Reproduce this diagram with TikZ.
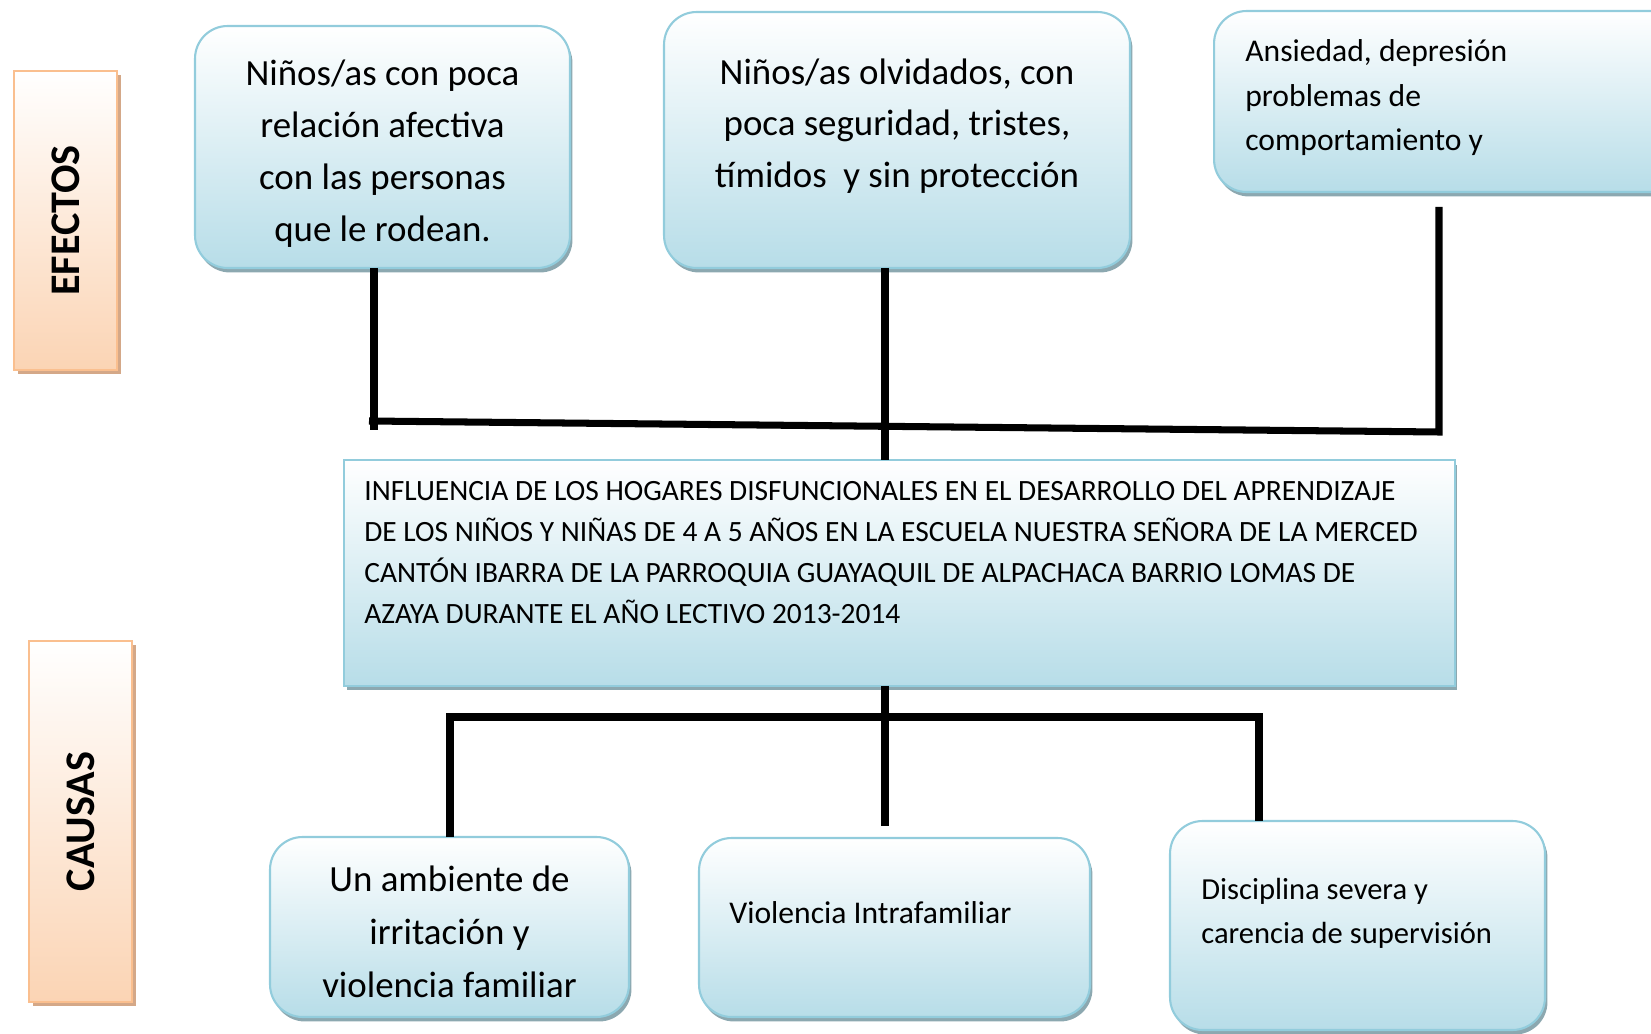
\documentclass[tikz,border=0pt]{standalone}
\usepackage{fontspec}
\setmainfont{Carlito}
\usepackage{tikz}
\usetikzlibrary{positioning}
\usetikzlibrary{shadows}

\definecolor{boxblue}{RGB}{183,221,232}
\definecolor{edgeblue}{RGB}{146,204,220}
\definecolor{shadeblue}{RGB}{140,168,176}
\definecolor{boxpeach}{RGB}{251,212,180}
\definecolor{edgepeach}{RGB}{250,191,143}
\definecolor{shadepeach}{RGB}{212,168,136}

\tikzset{%
  effect/.style   = {draw=edgeblue, line width=1.2pt, rounded corners=0.65cm,
    top color=white, bottom color=boxblue, inner sep=0pt, outer sep=0pt,
    general shadow={fill=shadeblue, shadow xshift=0.05cm, shadow yshift=-0.09cm}},
  problem/.style  = {effect, rounded corners=0pt},
  side/.style     = {draw=edgepeach, line width=1.2pt, top color=white,
    bottom color=boxpeach, inner sep=0pt, outer sep=0pt,
    font=\fontsize{24}{27}\selectfont\bfseries,
    general shadow={fill=shadepeach, shadow xshift=0.08cm, shadow yshift=-0.08cm}}, % titles
  bigtext/.style  = {font=\fontsize{21}{29.5}\selectfont, align=center, inner sep=0pt},
  smalltext/.style= {font=\fontsize{18}{25.5}\selectfont, align=left, inner sep=0pt, anchor=north west},
  link/.style     = {line width=4pt, black}
}

\begin{document}
\begin{tikzpicture}[x=0.02cm, y=-0.02cm]
  \useasboundingbox (0,0) rectangle (1651,1034);
  \clip (0,0) rectangle (1651,1034);

  % side titles
  \draw node at (65.5,220.5) [side, minimum width=2.06cm, minimum height=5.98cm] (efectos) {\rotatebox{90}{EFECTOS}};
  \draw node at (80.5,821.5) [side, minimum width=2.06cm, minimum height=7.22cm] (causas) {\rotatebox{90}{CAUSAS}};

  % efectos
  \draw node at (382.5,147) [effect, minimum width=7.5cm, minimum height=4.84cm] (e1) {};
  \draw node at (382.5,153.5) [bigtext] (e1txt)
    {Niños/as con poca\\relación afectiva\\con las personas\\que le rodean.};
  \draw node at (897,140) [effect, minimum width=9.32cm, minimum height=5.12cm] (e2) {};
  \draw node at (897,126) [bigtext] (e2txt)
    {Niños/as olvidados, con\\poca seguridad, tristes,\\tímidos \ y sin protección};
  \draw node at (1449,101.5) [effect, minimum width=9.4cm, minimum height=3.62cm] (e3) {};
  \draw node at (1245,39) [smalltext] (e3txt)
    {Ansiedad, depresión\\problemas de\\comportamiento y};

  % problema central
  \draw node at (899.5,573) [problem, minimum width=22.22cm, minimum height=4.52cm] (prob) {};
  \draw node at (364,481) [smalltext, font=\fontsize{16.75}{23.3}\selectfont] (probtxt)
    {INFLUENCIA DE LOS HOGARES DISFUNCIONALES EN EL DESARROLLO DEL APRENDIZAJE\\
     DE LOS NIÑOS Y NIÑAS DE 4 A 5 AÑOS EN LA ESCUELA NUESTRA SEÑORA DE LA MERCED\\
     CANTÓN IBARRA DE LA PARROQUIA GUAYAQUIL DE ALPACHACA BARRIO LOMAS DE\\
     AZAYA DURANTE EL AÑO LECTIVO 2013-2014};

  % causas
  \draw node at (449.5,927) [effect, minimum width=7.18cm, minimum height=3.6cm] (c1) {};
  \draw node at (449.5,932) [bigtext, font=\fontsize{21}{30}\selectfont] (c1txt)
    {Un ambiente de\\irritación y\\violencia familiar};
  \draw node at (894.5,927.5) [effect, minimum width=7.82cm, minimum height=3.58cm] (c2) {};
  \draw node at (729,901) [smalltext] (c2txt) {Violencia Intrafamiliar};
  \draw node at (1357.5,925.5) [effect, minimum width=7.5cm, minimum height=4.18cm] (c3) {};
  \draw node at (1201,878) [smalltext, font=\fontsize{17.4}{25}\selectfont] (c3txt)
    {Disciplina severa y\\carencia de supervisión};

  % joints
  \coordinate (tl) at (369,421);
  \coordinate (tr) at (1439,432);
  \coordinate (t1) at (374,430);
  \coordinate (t3) at ([yshift=-0.3cm]e3.south);
  \coordinate (axis) at (885,573);
  \coordinate (b2) at (885,826);
  \coordinate (bl) at (450,717);
  \coordinate (br) at (1259,717);

  \draw[link] (e1.south -| t1) -- (t1);
  \draw[link] (t3 -| tr) -- (tr) -- (tl);
  \draw[link] (e2.south -| axis) -- (prob.north -| axis);
  \draw[link] (prob.south -| axis) -- (b2);
  \draw[link] (c1.north -| bl) -- (bl) -- (br) -- (c3.north -| br);

\end{tikzpicture}
\end{document}
